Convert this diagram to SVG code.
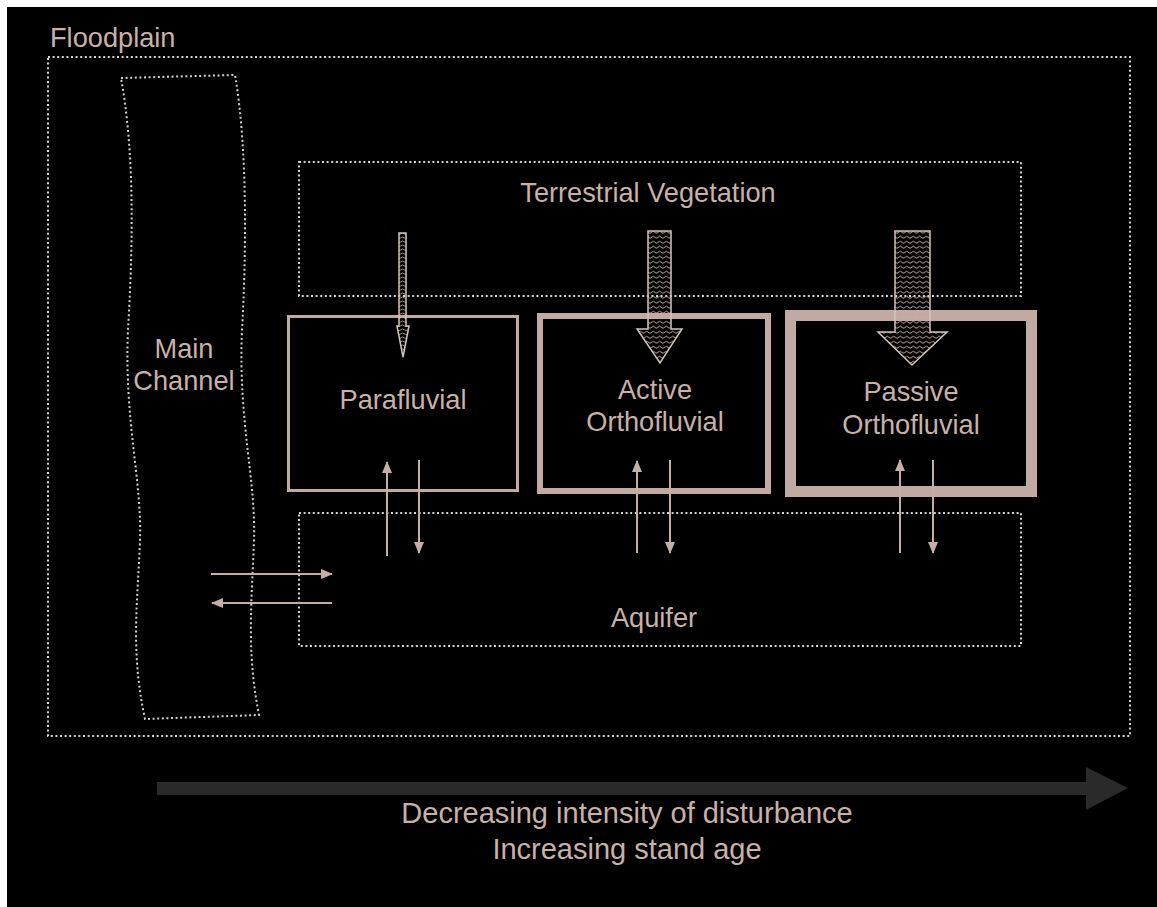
<svg xmlns="http://www.w3.org/2000/svg" width="1157" height="907" viewBox="0 0 1157 907">
<defs>
<style>
.t{font-family:"Liberation Sans",Arial,sans-serif;font-size:27.2px;fill:#c9b1a9;text-anchor:middle}
.b{font-size:29px}
.dot{fill:none;stroke:#d6d2d0;stroke-width:2;stroke-dasharray:2 2.6}
.box{fill:none;stroke:#c2a9a1}
.flow{stroke:#c4aea6;stroke-width:2;fill:none}
.varrow{stroke:#d4c4be;stroke-width:1.5}
</style>
<pattern id="zz" patternUnits="userSpaceOnUse" width="6.5" height="5">
<path d="M0,3.3 L3.25,1.2 L6.5,3.3" fill="none" stroke="#c9ada4" stroke-width="0.9"/>
</pattern>
<pattern id="zzs" patternUnits="userSpaceOnUse" width="7" height="4">
<path d="M0,2.6 L3.5,1 L7,2.6" fill="none" stroke="#c9ada4" stroke-width="0.8"/>
</pattern>
<marker id="ah" viewBox="0 0 12 10" refX="11" refY="5" markerWidth="12" markerHeight="10" markerUnits="userSpaceOnUse" orient="auto">
<path d="M0,0 L12,5 L0,10 Z" fill="#c4aea6"/>
</marker>
</defs>
<rect x="0" y="0" width="1157" height="907" fill="#ffffff"/>
<rect x="7" y="7" width="1150" height="900" fill="#000000"/>

<g id="floodplain">
<rect class="dot" x="48" y="57" width="1082" height="679"/>
<text class="t" x="50" y="47" style="text-anchor:start">Floodplain</text>
</g>

<g id="main-channel">
<path class="dot" d="M121,78 L235,75 C248,150 246,260 242,330 C238,420 256,480 254,540 C252,600 246,650 259,715 L145,719 C130,650 138,600 140,540 C142,480 124,420 128,330 C132,260 136,160 121,78 Z"/>
<text class="t" x="184" y="358">Main</text>
<text class="t" x="184" y="390">Channel</text>
</g>

<g id="terrestrial-vegetation">
<rect class="dot" x="299" y="162" width="722" height="134"/>
<text class="t" x="648" y="202">Terrestrial Vegetation</text>
</g>

<g id="aquifer">
<rect class="dot" x="299" y="513" width="722" height="133"/>
<text class="t" x="654" y="627">Aquifer</text>
</g>

<g id="parafluvial">
<rect class="box" x="288.5" y="316.5" width="229" height="174" stroke-width="3"/>
<text class="t" x="403" y="409">Parafluvial</text>
</g>

<g id="active-orthofluvial">
<rect class="box" x="540" y="316" width="228" height="175" stroke-width="6" stroke="#bca096"/>
<text class="t" x="655" y="399">Active</text>
<text class="t" x="655" y="431">Orthofluvial</text>
</g>

<g id="passive-orthofluvial">
<rect class="box" x="790.5" y="315.5" width="241" height="176" stroke-width="11" stroke="#b6958b"/>
<text class="t" x="911" y="401">Passive</text>
<text class="t" x="911" y="434">Orthofluvial</text>
</g>

<g id="connectors">
<path class="varrow" d="M399,233 L406,233 L406,326 L409,326 L403,357 L397,326 L399,326 Z" fill="url(#zzs)"/>
<path class="varrow" d="M648,231 L671,231 L671,329 L682,329 L660,363 L637,329 L648,329 Z" fill="url(#zz)"/>
<path class="varrow" d="M895,231 L930,231 L930,332 L947,332 L912,365 L878,332 L895,332 Z" fill="url(#zz)"/>

<line class="flow" x1="387" y1="556" x2="387" y2="462" marker-end="url(#ah)"/>
<line class="flow" x1="419" y1="460" x2="419" y2="553" marker-end="url(#ah)"/>
<line class="flow" x1="637" y1="553" x2="637" y2="461" marker-end="url(#ah)"/>
<line class="flow" x1="670" y1="460" x2="670" y2="553" marker-end="url(#ah)"/>
<line class="flow" x1="900" y1="553" x2="900" y2="460" marker-end="url(#ah)"/>
<line class="flow" x1="933" y1="460" x2="933" y2="553" marker-end="url(#ah)"/>

<line class="flow" x1="211" y1="574" x2="332" y2="574" marker-end="url(#ah)"/>
<line class="flow" x1="332" y1="603" x2="212" y2="603" marker-end="url(#ah)"/>
</g>

<g id="gradient-arrow">
<path d="M157,782 L1086,782 L1086,767 L1128,788 L1086,810 L1086,795 L157,795 Z" fill="#2a2a2a"/>
<text class="t b" x="627" y="823">Decreasing intensity of disturbance</text>
<text class="t b" x="627" y="859">Increasing stand age</text>
</g>
</svg>
